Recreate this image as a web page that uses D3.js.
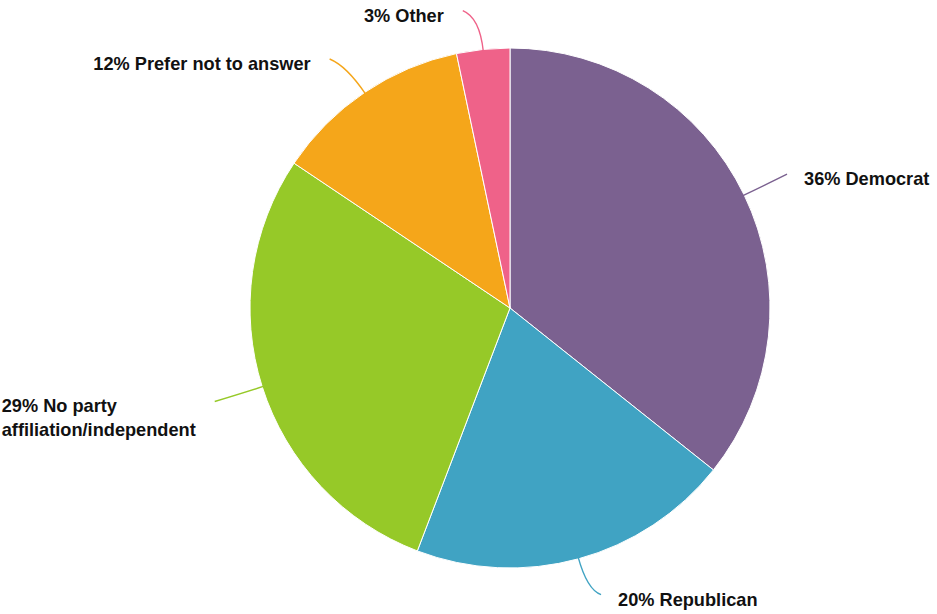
<!DOCTYPE html>
<html><head><meta charset="utf-8">
<script src="https://cdn.jsdelivr.net/npm/d3@7"></script>
<style>html,body{margin:0;padding:0;background:#fff;}svg{display:block;}</style>
</head><body>
<svg id="chart" width="937" height="614"></svg>
<script>
const categories = ["Democrat", "Republican", "No party affiliation/independent", "Prefer not to answer", "Other"];
const labelLines = [["36% Democrat"], ["20% Republican"], ["29% No party", "affiliation/independent"], ["12% Prefer not to answer"], ["3% Other"]];
const values = [35.7, 20.1, 28.6, 12.3, 3.3];
const colors = ["#7b6190", "#40a3c3", "#96c928", "#f5a61a", "#ef6289"];

const svg = d3.select("#chart");
const cx = 510, cy = 308, R = 260;
const g = svg.append("g").attr("transform", `translate(${cx},${cy})`);

const pie = d3.pie().sort(null).value(d => d.v);
const data = pie(values.map((v, i) => ({v, i})));
const arc = d3.arc().innerRadius(0).outerRadius(R);

g.selectAll("path.slice").data(data).enter().append("path")
  .attr("class", "slice")
  .attr("d", arc)
  .attr("fill", d => colors[d.data.i])
  .attr("stroke", "#fff").attr("stroke-width", 1);

const font = "'Liberation Sans', Arial, Helvetica, sans-serif";
data.forEach(d => {
  const a = (d.startAngle + d.endAngle) / 2;
  const sx = Math.sin(a), sy = -Math.cos(a);
  const right = sx >= 0;
  const p0 = [sx * (R - 2), sy * (R - 2)];
  const p1 = [sx * 292, sy * 292];
  const p2 = [p1[0] + (right ? 14 : -17), p1[1] + (sy < 0 ? -7 : 5)];
  const path = d3.path();
  path.moveTo(p0[0], p0[1]);
  path.quadraticCurveTo(p1[0], p1[1], p2[0], p2[1]);
  g.append("path").attr("d", path.toString()).attr("fill", "none")
    .attr("stroke", colors[d.data.i]).attr("stroke-width", 1.4);

  const lines = labelLines[d.data.i];
  const lh = 24;
  const t = g.append("text")
    .attr("font-family", font).attr("font-weight", "bold").attr("font-size", 18.2)
    .attr("fill", "#111");
  lines.forEach(ln => { t.append("tspan").text(ln); });
  const tsp = t.selectAll("tspan");
  let maxW = 0;
  tsp.each(function(){ maxW = Math.max(maxW, this.getComputedTextLength()); });
  const x0 = right ? p2[0] + 17 : p2[0] - 19 - maxW;
  const y0 = p2[1] + 11;
  tsp.attr("x", x0).attr("y", (ln, k) => y0 + k * lh);
});
</script>
</body></html>
